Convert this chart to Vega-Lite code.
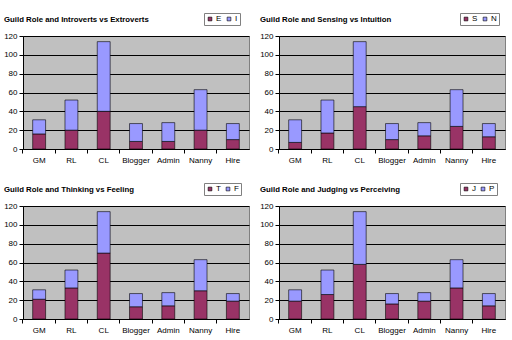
{
  "$schema": "https://vega.github.io/schema/vega-lite/v6.json",
  "background": "white",
  "padding": {"left": 3, "top": 12, "right": 0, "bottom": 0},
  "bounds": "flush",
  "columns": 2,
  "spacing": {"column": 30, "row": 57},
  "data": {
    "values": [
      {"p": 1, "role": "GM", "t": "E", "o": 0, "v": 16},
      {"p": 1, "role": "GM", "t": "I", "o": 1, "v": 15},
      {"p": 1, "role": "RL", "t": "E", "o": 0, "v": 20},
      {"p": 1, "role": "RL", "t": "I", "o": 1, "v": 32},
      {"p": 1, "role": "CL", "t": "E", "o": 0, "v": 40},
      {"p": 1, "role": "CL", "t": "I", "o": 1, "v": 74},
      {"p": 1, "role": "Blogger", "t": "E", "o": 0, "v": 8},
      {"p": 1, "role": "Blogger", "t": "I", "o": 1, "v": 19},
      {"p": 1, "role": "Admin", "t": "E", "o": 0, "v": 8},
      {"p": 1, "role": "Admin", "t": "I", "o": 1, "v": 20},
      {"p": 1, "role": "Nanny", "t": "E", "o": 0, "v": 20},
      {"p": 1, "role": "Nanny", "t": "I", "o": 1, "v": 43},
      {"p": 1, "role": "Hire", "t": "E", "o": 0, "v": 10},
      {"p": 1, "role": "Hire", "t": "I", "o": 1, "v": 17},
      {"p": 2, "role": "GM", "t": "S", "o": 0, "v": 7},
      {"p": 2, "role": "GM", "t": "N", "o": 1, "v": 24},
      {"p": 2, "role": "RL", "t": "S", "o": 0, "v": 17},
      {"p": 2, "role": "RL", "t": "N", "o": 1, "v": 35},
      {"p": 2, "role": "CL", "t": "S", "o": 0, "v": 45},
      {"p": 2, "role": "CL", "t": "N", "o": 1, "v": 69},
      {"p": 2, "role": "Blogger", "t": "S", "o": 0, "v": 10},
      {"p": 2, "role": "Blogger", "t": "N", "o": 1, "v": 17},
      {"p": 2, "role": "Admin", "t": "S", "o": 0, "v": 14},
      {"p": 2, "role": "Admin", "t": "N", "o": 1, "v": 14},
      {"p": 2, "role": "Nanny", "t": "S", "o": 0, "v": 24},
      {"p": 2, "role": "Nanny", "t": "N", "o": 1, "v": 39},
      {"p": 2, "role": "Hire", "t": "S", "o": 0, "v": 13},
      {"p": 2, "role": "Hire", "t": "N", "o": 1, "v": 14},
      {"p": 3, "role": "GM", "t": "T", "o": 0, "v": 21},
      {"p": 3, "role": "GM", "t": "F", "o": 1, "v": 10},
      {"p": 3, "role": "RL", "t": "T", "o": 0, "v": 33},
      {"p": 3, "role": "RL", "t": "F", "o": 1, "v": 19},
      {"p": 3, "role": "CL", "t": "T", "o": 0, "v": 70},
      {"p": 3, "role": "CL", "t": "F", "o": 1, "v": 44},
      {"p": 3, "role": "Blogger", "t": "T", "o": 0, "v": 13},
      {"p": 3, "role": "Blogger", "t": "F", "o": 1, "v": 14},
      {"p": 3, "role": "Admin", "t": "T", "o": 0, "v": 14},
      {"p": 3, "role": "Admin", "t": "F", "o": 1, "v": 14},
      {"p": 3, "role": "Nanny", "t": "T", "o": 0, "v": 30},
      {"p": 3, "role": "Nanny", "t": "F", "o": 1, "v": 33},
      {"p": 3, "role": "Hire", "t": "T", "o": 0, "v": 19},
      {"p": 3, "role": "Hire", "t": "F", "o": 1, "v": 8},
      {"p": 4, "role": "GM", "t": "J", "o": 0, "v": 19},
      {"p": 4, "role": "GM", "t": "P", "o": 1, "v": 12},
      {"p": 4, "role": "RL", "t": "J", "o": 0, "v": 26},
      {"p": 4, "role": "RL", "t": "P", "o": 1, "v": 26},
      {"p": 4, "role": "CL", "t": "J", "o": 0, "v": 58},
      {"p": 4, "role": "CL", "t": "P", "o": 1, "v": 56},
      {"p": 4, "role": "Blogger", "t": "J", "o": 0, "v": 16},
      {"p": 4, "role": "Blogger", "t": "P", "o": 1, "v": 11},
      {"p": 4, "role": "Admin", "t": "J", "o": 0, "v": 19},
      {"p": 4, "role": "Admin", "t": "P", "o": 1, "v": 9},
      {"p": 4, "role": "Nanny", "t": "J", "o": 0, "v": 33},
      {"p": 4, "role": "Nanny", "t": "P", "o": 1, "v": 30},
      {"p": 4, "role": "Hire", "t": "J", "o": 0, "v": 14},
      {"p": 4, "role": "Hire", "t": "P", "o": 1, "v": 13}
    ]
  },
  "concat": [
    {
      "title": "Guild Role and Introverts vs Extroverts",
      "width": 226, "height": 113,
      "transform": [{"filter": "datum.p == 1"}],
      "mark": {"type": "bar", "stroke": "black", "strokeWidth": 0.6},
      "encoding": {
        "x": {"field": "role", "type": "nominal", "sort": ["GM", "RL", "CL", "Blogger", "Admin", "Nanny", "Hire"], "scale": {"paddingInner": 0.6, "paddingOuter": 0.3}},
        "y": {"field": "v", "type": "quantitative", "stack": "zero", "scale": {"domain": [0, 120]}, "axis": {"values": [0, 20, 40, 60, 80, 100, 120]}},
        "color": {"field": "t", "type": "nominal", "scale": {"domain": ["E", "I"], "range": ["#993366", "#9999FF"]}},
        "order": {"field": "o"}
      }
    },
    {
      "title": "Guild Role and Sensing vs Intuition",
      "width": 226, "height": 113,
      "transform": [{"filter": "datum.p == 2"}],
      "mark": {"type": "bar", "stroke": "black", "strokeWidth": 0.6},
      "encoding": {
        "x": {"field": "role", "type": "nominal", "sort": ["GM", "RL", "CL", "Blogger", "Admin", "Nanny", "Hire"], "scale": {"paddingInner": 0.6, "paddingOuter": 0.3}},
        "y": {"field": "v", "type": "quantitative", "stack": "zero", "scale": {"domain": [0, 120]}, "axis": {"values": [0, 20, 40, 60, 80, 100, 120]}},
        "color": {"field": "t", "type": "nominal", "scale": {"domain": ["S", "N"], "range": ["#993366", "#9999FF"]}},
        "order": {"field": "o"}
      }
    },
    {
      "title": "Guild Role and Thinking vs Feeling",
      "width": 226, "height": 113,
      "transform": [{"filter": "datum.p == 3"}],
      "mark": {"type": "bar", "stroke": "black", "strokeWidth": 0.6},
      "encoding": {
        "x": {"field": "role", "type": "nominal", "sort": ["GM", "RL", "CL", "Blogger", "Admin", "Nanny", "Hire"], "scale": {"paddingInner": 0.6, "paddingOuter": 0.3}},
        "y": {"field": "v", "type": "quantitative", "stack": "zero", "scale": {"domain": [0, 120]}, "axis": {"values": [0, 20, 40, 60, 80, 100, 120]}},
        "color": {"field": "t", "type": "nominal", "scale": {"domain": ["T", "F"], "range": ["#993366", "#9999FF"]}},
        "order": {"field": "o"}
      }
    },
    {
      "title": "Guild Role and Judging vs Perceiving",
      "width": 226, "height": 113,
      "transform": [{"filter": "datum.p == 4"}],
      "mark": {"type": "bar", "stroke": "black", "strokeWidth": 0.6},
      "encoding": {
        "x": {"field": "role", "type": "nominal", "sort": ["GM", "RL", "CL", "Blogger", "Admin", "Nanny", "Hire"], "scale": {"paddingInner": 0.6, "paddingOuter": 0.3}},
        "y": {"field": "v", "type": "quantitative", "stack": "zero", "scale": {"domain": [0, 120]}, "axis": {"values": [0, 20, 40, 60, 80, 100, 120]}},
        "color": {"field": "t", "type": "nominal", "scale": {"domain": ["J", "P"], "range": ["#993366", "#9999FF"]}},
        "order": {"field": "o"}
      }
    }
  ],
  "resolve": {
    "scale": {"x": "independent", "y": "independent", "color": "independent"},
    "axis": {"x": "independent", "y": "independent"},
    "legend": {"color": "independent"}
  },
  "config": {
    "font": "Liberation Sans",
    "view": {"fill": "#C0C0C0", "stroke": "#808080", "strokeWidth": 1},
    "title": {"anchor": "start", "frame": "group", "dx": -19, "offset": -11.5, "baseline": "alphabetic", "font": "Liberation Sans", "fontSize": 7.8, "fontWeight": "bold", "color": "black"},
    "axis": {"title": null, "labelFont": "Liberation Sans", "labelFontSize": 8, "labelColor": "black", "domainColor": "black", "domainWidth": 1, "tickColor": "black", "tickSize": 4, "labelPadding": 2},
    "axisX": {"grid": false, "labelAngle": 0, "bandPosition": -0.75, "labelPadding": 3},
    "axisY": {"grid": true, "gridColor": "black", "gridOpacity": 1, "gridWidth": 1},
    "legend": {"orient": "none", "legendX": 181, "legendY": -23, "direction": "horizontal", "title": null, "strokeColor": "#808080", "fillColor": "white", "padding": 2, "symbolType": "square", "symbolSize": 14, "symbolStrokeColor": "black", "symbolStrokeWidth": 0.6, "symbolOpacity": 1, "labelFont": "Liberation Sans", "labelFontSize": 8, "labelColor": "black", "columnPadding": 3, "labelOffset": 2}
  }
}
